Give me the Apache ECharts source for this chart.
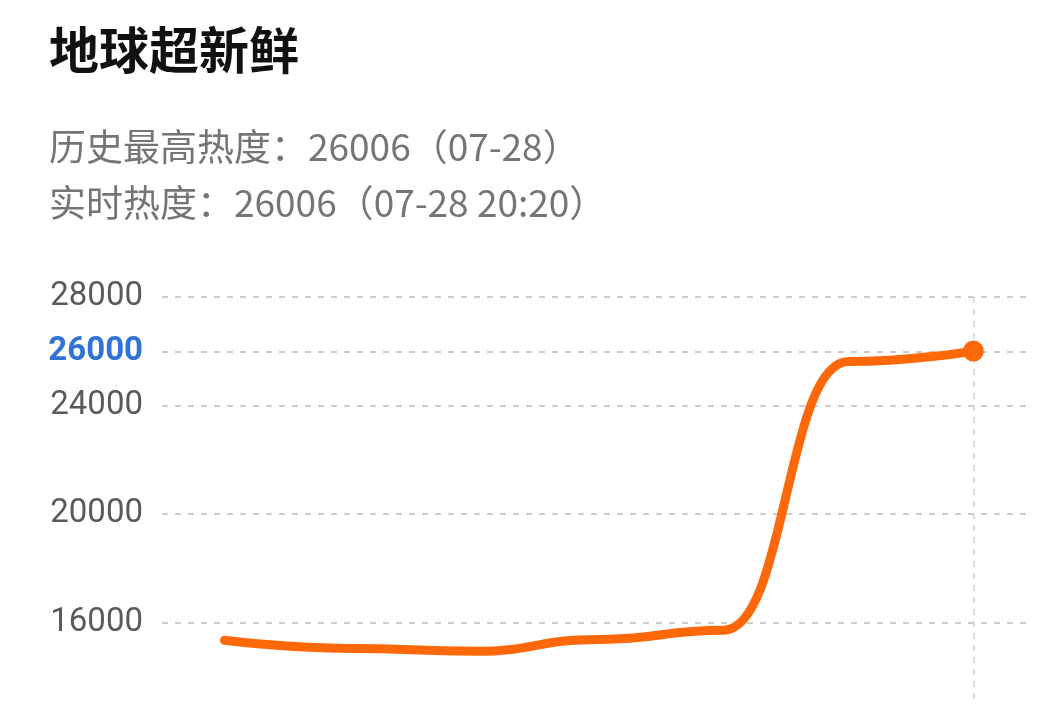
<!DOCTYPE html>
<html>
<head>
<meta charset="utf-8">
<script src="https://cdn.jsdelivr.net/npm/echarts@6/dist/echarts.min.js"></script>
<style>
html,body{margin:0;padding:0;background:#fff;}
#chart{width:1056px;height:704px;}
</style>
</head>
<body>
<div id="chart"></div>
<script>
// ---- data ----
const titleText = '地球超新鲜';
const subLine1 = '历史最高热度：26006（07-28）';
const subLine2 = '实时热度：26006（07-28 20:20）';
const times = ['14:20', '15:20', '16:20', '17:20', '18:20', '19:20', '20:20'];
const heat = [15350, 15050, 14940, 15380, 15720, 25620, 26006];
const yTickLabels = [16000, 20000, 24000, 26000, 28000];
const highlightTick = 26000;

const lastIdx = heat.length - 1;
const seriesData = heat.map((v, i) => [i, v]);

const chart = echarts.init(document.getElementById('chart'), null, {renderer: 'canvas'});
const option = {
  backgroundColor: '#ffffff',
  animation: false,
  title: [
    {text: titleText, left: 44, top: 18,
     textStyle: {fontFamily: 'Noto Sans CJK SC', fontSize: 50, fontWeight: 'bold', color: '#111', lineHeight: 54}},
    {text: subLine1, left: 44, top: 122,
     textStyle: {fontFamily: 'Noto Sans CJK SC', fontSize: 37, fontWeight: 'normal', color: '#757575', lineHeight: 40}},
    {text: subLine2, left: 44, top: 178,
     textStyle: {fontFamily: 'Noto Sans CJK SC', fontSize: 37, fontWeight: 'normal', color: '#757575', lineHeight: 40}}
  ],
  grid: {left: 162, right: 24, top: 297, bottom: -2, containLabel: false},
  xAxis: {
    type: 'value', min: -0.5, max: 6.47, show: false,
    splitLine: {show: false}
  },
  yAxis: {
    type: 'value', min: 13000, max: 28000, interval: 1000,
    axisLine: {show: false}, axisTick: {show: false}, splitLine: {show: false},
    axisLabel: {
      margin: 19,
      fontFamily: 'Roboto', fontSize: 33, color: '#5a5a5a',
      formatter: function (v) {
        if (yTickLabels.indexOf(v) < 0) return '';
        return v === highlightTick ? '{hl|' + v + '}' : String(v);
      },
      rich: {hl: {fontFamily: 'Roboto', fontSize: 33, fontWeight: 'bold', color: '#2f73d8'}}
    }
  },
  series: [{
    type: 'line',
    name: '热度',
    data: seriesData,
    smooth: 0.5,
    smoothMonotone: 'x',
    showSymbol: true,
    showAllSymbol: true,
    symbol: 'circle',
    symbolSize: function (v, p) { return p.dataIndex === lastIdx ? 21 : 0; },
    itemStyle: {color: '#FF6808'},
    lineStyle: {color: '#FF6808', width: 9, cap: 'round', join: 'round'},
    z: 5,
    markLine: {
      silent: true,
      symbol: ['none', 'none'],
      label: {show: false},
      animation: false,
      data: yTickLabels.map(v => ({yAxis: v, lineStyle: {color: '#cccccc', width: 2, type: [6, 7]}}))
        .concat([[
          {coord: [lastIdx, 28000], lineStyle: {color: '#d4d4d4', width: 1.5, type: [6, 6]}},
          {coord: [lastIdx, 13000]}
        ]])
    }
  }]
};
chart.setOption(option);
</script>
</body>
</html>
